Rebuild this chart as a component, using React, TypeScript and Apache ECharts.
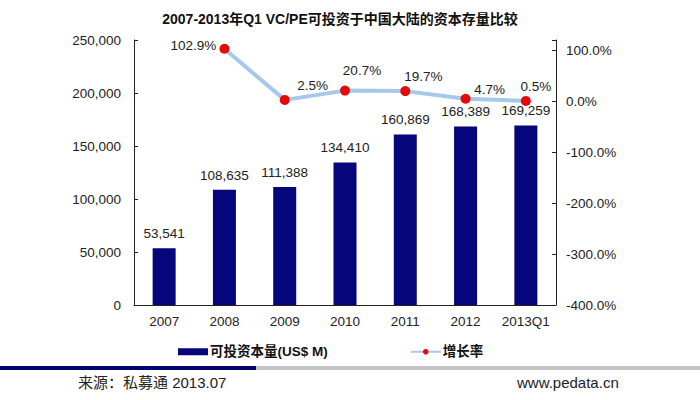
import React, { useEffect, useRef } from "react";
import * as echarts from "echarts";

const categories = ["2007", "2008", "2009", "2010", "2011", "2012", "2013Q1"];
const capitalValues = [53541, 108635, 111388, 134410, 160869, 168389, 169259];
const growthValues: (number | null)[] = [null, 102.9, 2.5, 20.7, 19.7, 4.7, 0.5];
const leftTicks = [0, 50000, 100000, 150000, 200000, 250000];
const rightTicks = [-400, -300, -200, -100, 0, 100];
const barName = "可投资本量(US$ M)";
const lineName = "增长率";
const titleText = "2007-2013年Q1 VC/PE可投资于中国大陆的资本存量比较";
const sourceText = "来源：私募通 2013.07";
const siteText = "www.pedata.cn";

const growthLabelOffsets: number[][] = [
  [0, 0],
  [-31, -3],
  [28, -14],
  [17, -20],
  [18, -15],
  [24, -9],
  [10, -14],
];

const FONT = "'Liberation Sans', Arial, 'Noto Sans CJK SC', sans-serif";
const FS = 13.5;

export default function App() {
  const ref = useRef<HTMLDivElement>(null);
  useEffect(() => {
    if (!ref.current) return;
    const chart = echarts.init(ref.current, null, { renderer: "svg" });
    const fmtNum = (v: number) => v.toLocaleString("en-US");
    chart.setOption({
      animation: false,
      backgroundColor: "#ffffff",
      textStyle: { fontFamily: FONT },
      title: {
        text: titleText,
        left: 335,
        top: 7,
        textAlign: "center",
        textStyle: { fontSize: 14, fontWeight: "bold", color: "#111", fontFamily: FONT },
      },
      legend: {
        left: 178,
        top: 345,
        padding: 0,
        itemWidth: 30,
        itemHeight: 7,
        itemGap: 82,
        textStyle: { fontSize: 13.5, fontWeight: "bold", color: "#111", fontFamily: FONT, padding: [0, 0, 0, -3] },
        data: [
          { name: barName, icon: "rect" },
          { name: lineName },
        ],
      },
      grid: { left: 134, right: 144, top: 40, bottom: 95, containLabel: false },
      xAxis: {
        type: "category",
        data: categories,
        axisLine: { lineStyle: { color: "#222", width: 1 } },
        axisTick: { inside: true, length: 4, lineStyle: { color: "#222" } },
        axisLabel: { color: "#222", fontSize: FS, margin: 10, fontFamily: FONT, interval: 0 },
      },
      yAxis: [
        {
          type: "value",
          min: leftTicks[0],
          max: leftTicks[leftTicks.length - 1],
          interval: 50000,
          splitLine: { show: false },
          axisLine: { show: true, lineStyle: { color: "#222" } },
          axisTick: { show: true, inside: true, length: 4, lineStyle: { color: "#222" } },
          axisLabel: { color: "#222", fontSize: FS, margin: 13, formatter: (v: number) => fmtNum(v), fontFamily: FONT },
        },
        {
          type: "value",
          min: rightTicks[0],
          max: 120,
          interval: 100,
          position: "right",
          splitLine: { show: false },
          axisLine: { show: true, lineStyle: { color: "#222" } },
          axisTick: { show: true, inside: true, length: 4, lineStyle: { color: "#222" } },
          axisLabel: {
            color: "#222",
            fontSize: FS,
            margin: 10,
            fontFamily: FONT,
            formatter: (v: number) => (rightTicks.includes(v) ? v.toFixed(1) + "%" : ""),
          },
        },
      ],
      series: [
        {
          name: barName,
          type: "bar",
          data: capitalValues,
          barWidth: 23,
          itemStyle: { color: "#05057c" },
          label: {
            show: true,
            position: "top",
            distance: 8,
            color: "#222",
            fontSize: FS,
            fontFamily: FONT,
            formatter: (p: any) => fmtNum(p.value),
          },
          z: 2,
        },
        {
          name: lineName,
          type: "line",
          yAxisIndex: 1,
          data: growthValues.map((v, i) => ({
            value: v,
            label: { offset: growthLabelOffsets[i] },
          })),
          lineStyle: { color: "#a6c8ea", width: 4 },
          itemStyle: { color: "#e50a0a", borderWidth: 0 },
          symbol: "circle",
          symbolSize: 10,
          showSymbol: true,
          label: {
            show: true,
            position: "inside",
            color: "#222",
            fontSize: FS,
            fontFamily: FONT,
            formatter: (p: any) => (p.value == null ? "" : Number(p.value).toFixed(1) + "%"),
          },
          z: 3,
        },
      ],
      graphic: [
        { type: "rect", left: 0, top: 366, shape: { width: 256, height: 4 }, style: { fill: "#03036e" } },
        { type: "rect", left: 256, top: 366, shape: { width: 444, height: 4 }, style: { fill: "#c4c4c4" } },
        {
          type: "text",
          left: 78,
          top: 375,
          style: { text: sourceText, fontSize: 15, fill: "#222", fontFamily: FONT },
        },
        {
          type: "text",
          left: 517,
          top: 375,
          style: { text: siteText, fontSize: 15, fill: "#222", fontFamily: FONT },
        },
      ],
    });
    return () => chart.dispose();
  }, []);
  return <div ref={ref} style={{ width: 700, height: 400, position: "absolute", left: 0, top: 0 }} />;
}
